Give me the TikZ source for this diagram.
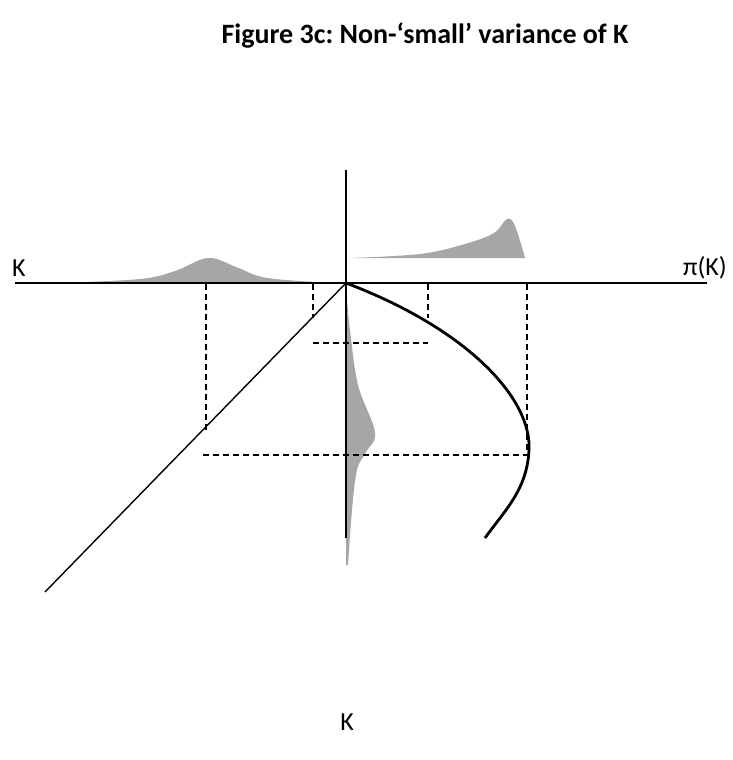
\documentclass[tikz,border=0pt]{standalone}
\usepackage{fontspec}
\setmainfont{Carlito}
\usetikzlibrary{calc}
\definecolor{distgray}{HTML}{A6A6A6}
\frenchspacing
\tikzset{
  ax/.style={line width=1.8pt,black},
  diag/.style={line width=1.4pt,black},
  pay/.style={line width=2.8pt,black},
  dsh/.style={line width=1.3pt,dash pattern=on 6pt off 4pt},
  dist/.style={fill=distgray,draw=none},
  lbl/.style={font=\fontsize{26}{30}\selectfont,inner sep=0pt}
}
\begin{document}
\begin{tikzpicture}[x=1pt,y=-1pt]
\useasboundingbox (0,0) rectangle (732,760);
% title
\node[font=\bfseries\fontsize{28}{32}\selectfont] (title) at (425,36) {Figure 3c: Non-‘small’ variance of K};
% key points
\coordinate (O) at (346,283);
\coordinate (xl) at (15,283);
\coordinate (xr) at (707,283);
\coordinate (yt) at (346,170);
\coordinate (yb) at (346,538);
\coordinate (dl) at (45,592);
% distributions
\fill[dist] plot[smooth,tension=0.6] coordinates {(60,283) (140,279) (175,271) (208,258) (236,267) (262,277) (300,281) (340,283)} -- cycle;
\fill[dist] plot[smooth,tension=0.6] coordinates {(350,258) (420,254) (465,244) (494,233) (507,219) (515,226) (525,258)} -- cycle;
\fill[dist] plot[smooth,tension=0.6] coordinates {(346,290) (350,330) (358,385) (375,432) (366,452) (357,470) (352,510) (348,565)} -- (346,565) -- cycle;
% axes
\draw[ax] (xl) -- (xr);
\draw[ax] (yt) -- (yb);
\draw[diag] (O) -- (dl);
% dashed guides
\draw[dsh] (206,284) -- (206,430);
\draw[dsh] (313,284) -- (313,318);
\draw[dsh] (428,284) -- (428,318);
\draw[dsh] (527,284) -- (527,452);
\draw[dsh] (313,343) -- (428,343);
\draw[dsh] (203,455) -- (529,455);
% payoff curve
\draw[pay] (O) .. controls (470,330) and (532,400) .. (529,450)
  .. controls (527,490) and (505,510) .. (485,538);
% labels
\node[lbl] (kl) at (19,268) {K};
\node[lbl] (pik) at (705,268) {π(K)};
\node[lbl] (kb) at (347,722) {K};
\end{tikzpicture}
\end{document}
